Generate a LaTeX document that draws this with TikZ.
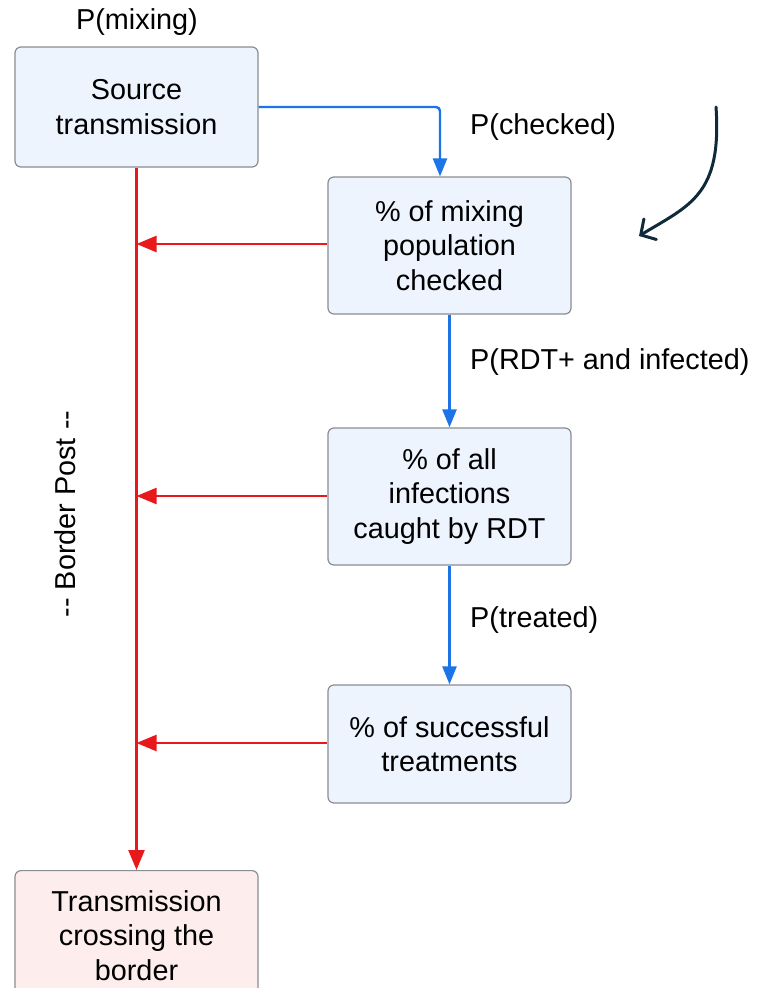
\documentclass[tikz,border=0pt]{standalone}
\usepackage{fontspec}
\setmainfont{Liberation Sans}
\usetikzlibrary{arrows.meta}
\definecolor{boxblue}{HTML}{EDF4FE}
\definecolor{boxred}{HTML}{FDEDED}
\definecolor{boxline}{HTML}{8A8D91}
\definecolor{lred}{HTML}{E8191B}
\definecolor{lblue}{HTML}{1C74E6}
\definecolor{navy}{HTML}{0F2A3A}
\tikzset{
  flowbox/.style={draw=boxline, line width=1.2pt, fill=boxblue, rounded corners=6pt,
    minimum width=243pt, align=center, font=\fontsize{28.8}{34.5}\selectfont, inner sep=0pt},
  redbox/.style={flowbox, fill=boxred},
  lbl/.style={font=\fontsize{28.8}{34}\selectfont, inner sep=0pt},
  redarrow/.style={draw=lred, line width=2.4pt, -{Triangle[length=20pt,width=16pt]}},
  bluearrow/.style={draw=lblue, line width=2.4pt, rounded corners=4pt, -{Triangle[length=18pt,width=14pt]}},
}
\begin{document}
\begin{tikzpicture}[x=1pt,y=-1pt]
\useasboundingbox[fill=white] (0,0) rectangle (756,988);
\node[flowbox, minimum height=120pt] (src) at (136.5,107) {Source\\transmission};
\node[flowbox, minimum height=137pt] (chk) at (449.5,245.5) {\% of mixing\\population\\checked};
\node[flowbox, minimum height=137pt] (rdt) at (449.5,496.5) {\% of all\\infections\\caught by RDT};
\node[flowbox, minimum height=118pt] (trt) at (449.5,744) {\% of successful\\treatments};
\node[redbox, minimum height=130pt, anchor=north] (out) at (136.5,870) {Transmission\\crossing the\\border};
\node[lbl] (pmix) at (137,22) {P(mixing)};
\node[lbl, anchor=west] (pchk) at (470,127) {P(checked)};
\node[lbl, anchor=west] (prdt) at (470,362) {P(RDT+ and infected)};
\node[lbl, anchor=west] (ptrt) at (470,620) {P(treated)};
\node[lbl, rotate=90] (bp) at (65,514) {{-}{-} Border Post {-}{-}};
\coordinate (j1) at (136.5,244);
\coordinate (j2) at (136.5,496);
\coordinate (j3) at (136.5,743);
\coordinate (bend) at (440,107);
\draw[redarrow] (src.south) -- (out.north);
\draw[redarrow] (chk.west |- j1) -- (j1);
\draw[redarrow] (rdt.west |- j2) -- (j2);
\draw[redarrow] (trt.west |- j3) -- (j3);
\draw[bluearrow] (src.east |- bend) -- (bend) -- (bend |- chk.north);
\draw[bluearrow] (chk.south) -- (rdt.north);
\draw[bluearrow] (rdt.south) -- (trt.north);
\coordinate (c1) at (716,107);
\coordinate (c2) at (639,236);
\draw[navy, line width=3pt, line cap=round, -{Straight Barb[length=11pt,width=24pt,line cap=round]}] (c1) .. controls (722,195) and (690,205) .. (c2);
\end{tikzpicture}
\end{document}
